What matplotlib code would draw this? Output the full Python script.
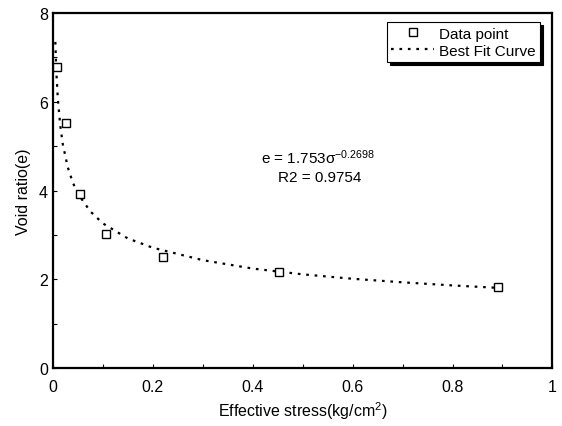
import matplotlib.pyplot as plt

# measured points
stress = [0.008, 0.026, 0.055, 0.107, 0.221, 0.453, 0.891]
void_ratio = [6.78, 5.52, 3.92, 3.02, 2.50, 2.16, 1.83]

# best fit curve
fit_stress = [0.005, 0.007, 0.01, 0.015, 0.02, 0.03, 0.04, 0.05, 0.075, 0.1, 0.15,
              0.2, 0.3, 0.4, 0.5, 0.6, 0.7, 0.8, 0.9]
fit_ratio = [7.35, 6.68, 6.07, 5.45, 5.04, 4.52, 4.18, 3.93, 3.53, 3.26, 2.92,
             2.71, 2.43, 2.24, 2.11, 2.01, 1.93, 1.86, 1.80]

x_ticks = [0, 0.2, 0.4, 0.6, 0.8, 1]
x_labels = ['0', '0.2', '0.4', '0.6', '0.8', '1']
y_ticks = [0, 2, 4, 6, 8]

plt.rcParams['font.family'] = ['Liberation Sans', 'DejaVu Sans']
plt.rcParams['mathtext.fontset'] = 'custom'
plt.rcParams['mathtext.rm'] = 'Liberation Sans'
plt.rcParams['mathtext.default'] = 'regular'

fig = plt.figure(figsize=(5.62, 4.27), dpi=100)
ax = fig.add_axes([0.094, 0.136, 0.889, 0.831])

ax.plot(stress, void_ratio, linestyle='none', marker='s', markersize=5.5,
        markerfacecolor='white', markeredgecolor='black', markeredgewidth=1.0,
        label='Data point', zorder=3)
ax.plot(fit_stress, fit_ratio, color='black', linewidth=1.6,
        linestyle=(0, (1.2, 2.6)), label='Best Fit Curve', zorder=2)

ax.set_xlim(0, 1)
ax.set_ylim(0, 8)
ax.set_xticks(x_ticks, x_labels)
ax.set_yticks(y_ticks)
ax.set_xticks([0.1, 0.3, 0.5, 0.7, 0.9], minor=True)
ax.set_yticks([1, 3, 5, 7], minor=True)
ax.tick_params(which='both', direction='in', length=3, width=0.8, labelsize=11.5)
ax.tick_params(axis='x', pad=8)
for side in ax.spines.values():
    side.set_linewidth(1.6)

ax.set_xlabel('Effective stress(kg/cm$^2$)', fontsize=11.5)
ax.set_ylabel('Void ratio(e)', fontsize=11.5, labelpad=6)

ax.text(0.53, 0.594, 'e = 1.753σ$^{-0.2698}$', transform=ax.transAxes,
        ha='center', va='center', fontsize=11)
ax.text(0.535, 0.538, 'R2 = 0.9754', transform=ax.transAxes,
        ha='center', va='center', fontsize=11)

leg = ax.legend(loc='upper right', bbox_to_anchor=(0.975, 0.975), fontsize=11,
                fancybox=False, edgecolor='black', framealpha=1,
                shadow={'color': 'black', 'alpha': 1},
                handlelength=2.8, handletextpad=0.3, borderpad=0.3,
                labelspacing=0.2, borderaxespad=0)
leg.get_frame().set_linewidth(0.8)

fig.savefig('out.png', dpi=100)
